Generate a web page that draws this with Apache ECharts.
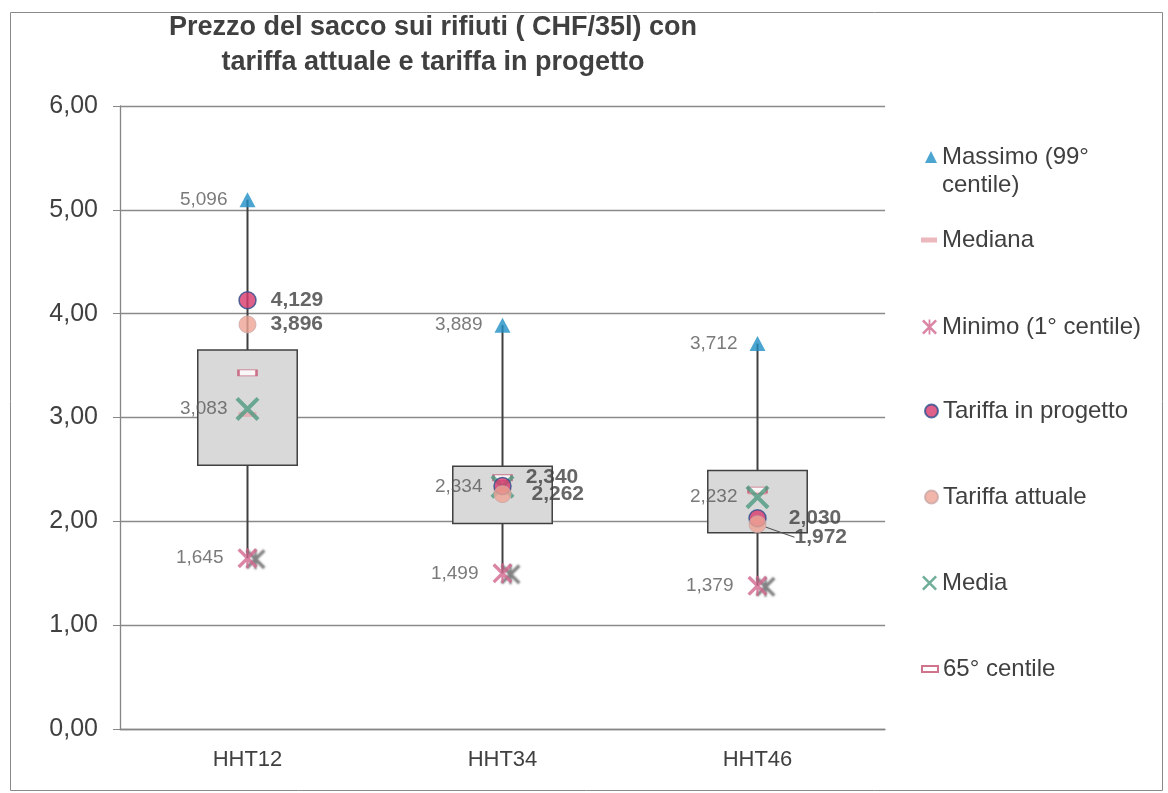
<!DOCTYPE html>
<html>
<head>
<meta charset="utf-8">
<script src="https://cdn.jsdelivr.net/npm/echarts@6/dist/echarts.min.js"></script>
<style>
html,body{margin:0;padding:0;background:#fff;}
#chart{width:1168px;height:793px;}
</style>
</head>
<body>
<div id="chart"></div>
<script>
// ---- data ----
const categories = ['HHT12', 'HHT34', 'HHT46'];
const massimo = [5.096, 3.889, 3.712];        // 99° centile
const minimo = [1.645, 1.499, 1.379];         // 1° centile
const media = [3.083, 2.334, 2.232];
const mediana = [3.03, 2.30, 2.28];
const centile65 = [3.43, 2.42, 2.30];
const tariffaProgetto = [4.129, 2.340, 2.030];
const tariffaAttuale = [3.896, 2.262, 1.972];
const boxLow = [2.54, 1.98, 1.89];
const boxHigh = [3.65, 2.53, 2.49];
const yTickLabels = ['0,00', '1,00', '2,00', '3,00', '4,00', '5,00', '6,00'];

const fmt3 = v => v.toFixed(3).replace('.', ',');
const FONT = 'Liberation Sans, Arial, sans-serif';

const X_PATH = 'path://M0,1.2L1.2,0L10,8.8L8.8,10Z M8.8,0L10,1.2L1.2,10L0,8.8Z';
const AST_PATH = 'path://M0,1.2L1.2,0L10,8.8L8.8,10Z M8.8,0L10,1.2L1.2,10L0,8.8Z M4.4,0L5.6,0L5.6,10L4.4,10Z';

const chart = echarts.init(document.getElementById('chart'));

function legendAt(name, centerY, iw, ih, extra) {
  const lh = 26;
  const base = {
    data: [name],
    orient: 'vertical',
    left: 942 - 5 - iw,
    top: centerY - lh / 2,
    padding: 0,
    itemWidth: iw,
    itemHeight: ih,
    selectedMode: false,
    textStyle: { fontFamily: FONT, fontSize: 24, color: '#404040', lineHeight: lh }
  };
  return Object.assign(base, extra || {});
}

const option = {
  backgroundColor: '#ffffff',
  animation: false,
  title: {
    text: 'Prezzo del sacco sui rifiuti ( CHF/35l) con\ntariffa attuale e tariffa in progetto',
    left: 433,
    top: 10,
    padding: 0,
    textAlign: 'center',
    textStyle: { fontFamily: FONT, fontSize: 27, fontWeight: 'bold', color: '#404040', lineHeight: 35 }
  },
  graphic: [{
    type: 'rect', left: 8, top: 10, silent: true,
    shape: { width: 1152, height: 778 },
    style: { fill: 'none', stroke: '#8a8a8a', lineWidth: 1 }
  }],
  legend: [
    legendAt('Massimo (99°\ncentile)', 157, 12, 12, {
      top: 157 - 42,
      formatter: () => '\nMassimo (99°\ncentile)',
      textStyle: { fontFamily: FONT, fontSize: 24, color: '#404040', lineHeight: 28 }
    }),
    legendAt('Mediana', 240, 16, 5),
    legendAt('Minimo (1° centile)', 327, 15, 15),
    legendAt('Tariffa in progetto', 411, 13, 13),
    legendAt('Tariffa attuale', 497, 13, 13),
    legendAt('Media', 583, 15, 15),
    legendAt('65° centile', 669, 16, 6)
  ],
  grid: { left: 120, right: 283, top: 106, bottom: 64 },
  xAxis: {
    type: 'category',
    data: categories,
    axisLine: { lineStyle: { color: '#868686', width: 1.3 } },
    axisTick: { show: false },
    axisLabel: { fontFamily: FONT, fontSize: 22, color: '#404040', margin: 20 }
  },
  yAxis: {
    type: 'value',
    min: 0, max: 6, interval: 1,
    axisLine: { show: true, lineStyle: { color: '#868686', width: 1.3 } },
    axisTick: { show: true, length: 7, lineStyle: { color: '#868686' } },
    splitLine: { lineStyle: { color: '#8a8a8a', width: 1.3 } },
    axisLabel: {
      fontFamily: FONT, fontSize: 25, color: '#404040', margin: 22,
      formatter: (v) => yTickLabels[Math.round(v)]
    }
  },
  series: [
    {
      type: 'custom',
      name: 'box',
      z: 1,
      data: categories.map((c, i) => [i, boxLow[i], boxHigh[i], minimo[i], massimo[i]]),
      renderItem: function (params, api) {
        const i = api.value(0);
        const pLow = api.coord([i, api.value(1)]);
        const pHigh = api.coord([i, api.value(2)]);
        const pMin = api.coord([i, api.value(3)]);
        const pMax = api.coord([i, api.value(4)]);
        const w = api.size([1, 0])[0] * 0.39;
        return {
          type: 'group',
          children: [
            { type: 'line', shape: { x1: pMax[0], y1: pMax[1], x2: pMin[0], y2: pMin[1] },
              style: { stroke: '#404040', lineWidth: 2 } },
            { type: 'rect', shape: { x: pHigh[0] - w / 2, y: pHigh[1], width: w, height: pLow[1] - pHigh[1] },
              style: { fill: '#d9d9d9', stroke: '#404040', lineWidth: 1.5 } }
          ]
        };
      }
    },
    {
      type: 'scatter', name: 'Massimo (99°\ncentile)', z: 3,
      data: massimo,
      symbol: 'triangle', symbolSize: [16, 15],
      itemStyle: { color: '#1f8ec4' },
      label: { show: true, position: 'left', distance: 12, formatter: p => fmt3(p.value),
        fontFamily: FONT, fontSize: 19, color: '#595959' }
    },
    {
      type: 'scatter', name: 'Minimo (1° centile)', z: 3,
      data: minimo,
      symbol: AST_PATH, symbolSize: 20,
      itemStyle: { color: '#d2678f', shadowColor: 'rgba(70,70,70,0.85)', shadowBlur: 2, shadowOffsetX: 8, shadowOffsetY: 1 },
      label: { show: true, position: 'left', distance: 14, formatter: p => fmt3(p.value),
        fontFamily: FONT, fontSize: 19, color: '#595959' }
    },
    {
      type: 'scatter', name: 'Mediana', z: 3,
      data: mediana,
      symbol: 'rect', symbolSize: [18, 5],
      itemStyle: { color: '#e6a6ad' }
    },
    {
      type: 'scatter', name: '65° centile', z: 4,
      data: centile65,
      symbol: 'rect', symbolSize: [18, 6],
      itemStyle: { color: '#ffffff', borderColor: '#c4506f', borderWidth: 1.5 }
    },
    {
      type: 'scatter', name: 'Media', z: 5,
      data: media,
      symbol: X_PATH, symbolSize: 24,
      itemStyle: { color: '#4e9a80' },
      label: { show: true, position: 'left', distance: 8, formatter: p => fmt3(p.value),
        fontFamily: FONT, fontSize: 19, color: '#595959' }
    },
    {
      type: 'scatter', name: 'Tariffa in progetto', z: 6,
      data: tariffaProgetto.map((v, i) => ({
        value: v,
        label: i === 1 ? { offset: [0, -9] } : (i === 2 ? { distance: 22 } : {})
      })),
      symbol: 'circle', symbolSize: 17,
      itemStyle: { color: '#d7386b', borderColor: '#2c4f8c', borderWidth: 1.5 },
      label: { show: true, position: 'right', distance: 14, formatter: p => fmt3(p.value),
        fontFamily: FONT, fontSize: 21, fontWeight: 'bold', color: '#404040' }
    },
    {
      type: 'scatter', name: 'Tariffa attuale', z: 7,
      data: tariffaAttuale.map((v, i) => ({
        value: v,
        label: i === 1 ? { distance: 20 } : {},
        labelLine: { show: i === 2, length2: 0, lineStyle: { color: '#595959', width: 1.2 } }
      })),
      symbol: 'circle', symbolSize: 17,
      itemStyle: { color: '#eda494', borderColor: '#c9a6a6', borderWidth: 1 },
      labelLayout: function (p) { return p.dataIndex === 2 ? { dx: 14, dy: 13 } : {}; },
      label: { show: true, position: 'right', distance: 14, formatter: p => fmt3(p.value),
        fontFamily: FONT, fontSize: 21, fontWeight: 'bold', color: '#404040' }
    }
  ]
};
chart.setOption(option);
</script>
</body>
</html>
